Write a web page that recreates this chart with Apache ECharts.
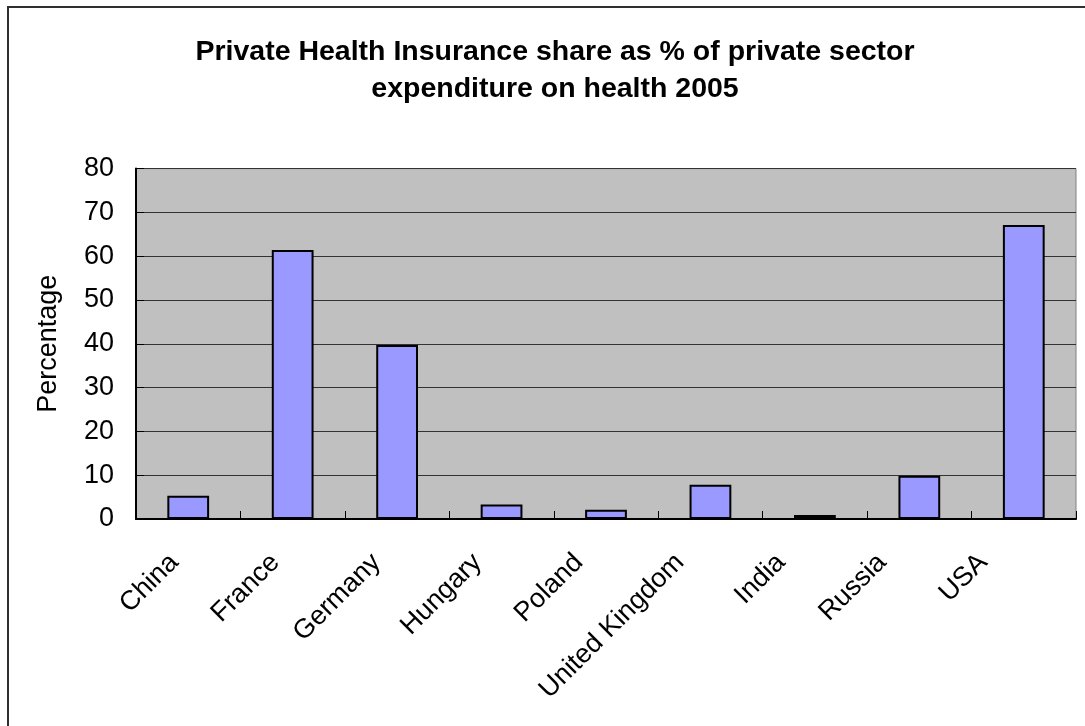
<!DOCTYPE html>
<html>
<head>
<meta charset="utf-8">
<script src="https://cdn.jsdelivr.net/npm/echarts@6/dist/echarts.min.js"></script>
<style>
  html, body { margin: 0; padding: 0; background: #fff; }
  #chart { width: 1085px; height: 726px; }
</style>
</head>
<body>
<div id="chart"></div>
<script>
// Country categories and the private health insurance share (%) for 2005
const countries = ['China', 'France', 'Germany', 'Hungary', 'Poland', 'United Kingdom', 'India', 'Russia', 'USA'];
const shareValues = [5.3, 61.4, 39.7, 3.3, 2.1, 7.8, 0.9, 9.9, 67.1];
const yTicks = { min: 0, max: 80, interval: 10 };
const titleLines = ['Private Health Insurance share as % of private sector', 'expenditure on health 2005'];
const yAxisTitle = 'Percentage';

const FONT = '"Liberation Sans", Arial, sans-serif';
const PLOT_TOP = 168.6;
const PLOT_BOTTOM = 207;

const chart = echarts.init(document.getElementById('chart'), null, { renderer: 'canvas' });

chart.setOption({
  backgroundColor: '#ffffff',
  animation: false,
  graphic: [
    {
      // chart frame
      type: 'rect',
      shape: { x: 8, y: 7, width: 1100, height: 800 },
      style: { fill: 'none', stroke: '#303030', lineWidth: 2 },
      silent: true
    },
    {
      // two-line heading, centred over the frame
      type: 'text',
      x: 555,
      y: 34,
      silent: true,
      style: {
        text: titleLines.join('\n'),
        fontFamily: FONT,
        fontWeight: 'bold',
        fontSize: 28.5,
        lineHeight: 37,
        fill: '#000',
        align: 'center',
        verticalAlign: 'top'
      }
    }
  ],
  grid: [
    {
      // plot area with the bars
      left: 136, right: 9, top: PLOT_TOP, bottom: PLOT_BOTTOM,
      show: true,
      backgroundColor: '#C0C0C0',
      borderColor: '#808080',
      borderWidth: 1
    },
    {
      // slightly narrower band that carries the slanted category labels
      left: 128, right: 47, top: PLOT_TOP, bottom: PLOT_BOTTOM,
      show: false
    }
  ],
  xAxis: [
    {
      type: 'category',
      gridIndex: 0,
      data: countries,
      axisLine: { lineStyle: { color: '#000', width: 2 } },
      axisTick: { show: true, inside: true, length: 8, interval: 0, alignWithLabel: false, lineStyle: { color: '#000', width: 1 } },
      axisLabel: { show: false, interval: 0 },
      splitLine: { show: false }
    },
    {
      type: 'category',
      gridIndex: 1,
      data: countries,
      axisLine: { show: false },
      axisTick: { show: false },
      axisLabel: {
        rotate: 45,
        interval: 0,
        margin: 35,
        padding: [0, 6, 0, 0],
        fontFamily: FONT,
        fontSize: 27,
        color: '#000'
      },
      splitLine: { show: false }
    }
  ],
  yAxis: [
    {
      type: 'value',
      gridIndex: 0,
      min: yTicks.min,
      max: yTicks.max,
      interval: yTicks.interval,
      name: yAxisTitle,
      nameLocation: 'middle',
      nameRotate: 90,
      nameGap: 74,
      nameTextStyle: { fontFamily: FONT, fontSize: 27, color: '#000' },
      axisLine: { show: true, lineStyle: { color: '#000', width: 2 } },
      axisTick: { show: true, inside: true, length: 8, lineStyle: { color: '#000', width: 1 } },
      axisLabel: { margin: 22, fontFamily: FONT, fontSize: 27, color: '#000' },
      splitLine: { show: true, lineStyle: { color: '#333', width: 1 } }
    },
    {
      type: 'value',
      gridIndex: 1,
      min: yTicks.min,
      max: yTicks.max,
      show: false
    }
  ],
  series: [{
    type: 'bar',
    xAxisIndex: 0,
    yAxisIndex: 0,
    data: shareValues,
    barCategoryGap: '60%',
    itemStyle: { color: '#9999FF', borderColor: '#000', borderWidth: 2 }
  }]
});
</script>
</body>
</html>
